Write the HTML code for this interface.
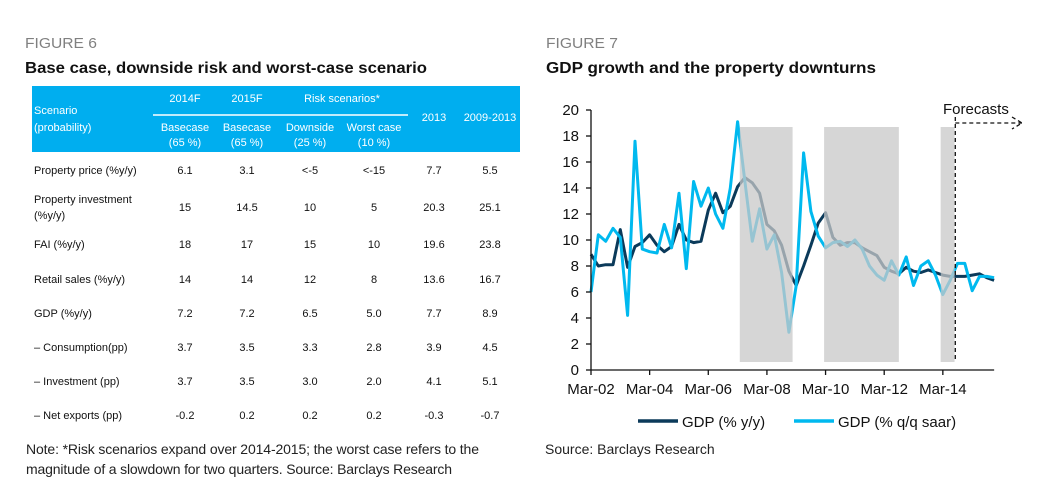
<!DOCTYPE html>
<html><head><meta charset="utf-8"><style>
body{margin:0;background:#fff;}
svg{display:block;font-family:"Liberation Sans",sans-serif;}
</style></head><body>
<svg width="1049" height="498" viewBox="0 0 1049 498">
<!-- Figure 6 -->
<text x="25" y="48" font-size="15" fill="#808080" textLength="72" lengthAdjust="spacingAndGlyphs">FIGURE 6</text>
<text x="25" y="73" font-size="16" font-weight="bold" fill="#111" textLength="402" lengthAdjust="spacingAndGlyphs">Base case, downside risk and worst-case scenario</text>
<g id="table" font-size="11">
<rect x="32" y="86" width="488" height="66" fill="#00aeef"/>
<g fill="#fff">
<text x="34" y="114">Scenario</text><text x="34" y="131">(probability)</text>
<text x="185" y="102" text-anchor="middle">2014F</text>
<text x="247" y="102" text-anchor="middle">2015F</text>
<text x="342" y="102" text-anchor="middle">Risk scenarios*</text>
<text x="434" y="121" text-anchor="middle">2013</text>
<text x="490" y="121" text-anchor="middle">2009-2013</text>
<text x="185" y="131" text-anchor="middle">Basecase</text><text x="185" y="146" text-anchor="middle">(65 %)</text>
<text x="247" y="131" text-anchor="middle">Basecase</text><text x="247" y="146" text-anchor="middle">(65 %)</text>
<text x="310" y="131" text-anchor="middle">Downside</text><text x="310" y="146" text-anchor="middle">(25 %)</text>
<text x="374" y="131" text-anchor="middle">Worst case</text><text x="374" y="146" text-anchor="middle">(10 %)</text>
</g>
<line x1="153" y1="115" x2="408" y2="115" stroke="#fff" stroke-width="1.5"/>
<g fill="#111" id="rows"></g>
</g>
<text x="26" y="454" font-size="14" fill="#222" textLength="453">Note: *Risk scenarios expand over 2014-2015; the worst case refers to the</text>
<text x="26" y="474" font-size="14" fill="#222" textLength="426">magnitude of a slowdown for two quarters. Source: Barclays Research</text>

<!-- Figure 7 -->
<text x="546" y="48" font-size="15" fill="#808080" textLength="72" lengthAdjust="spacingAndGlyphs">FIGURE 7</text>
<text x="546" y="73" font-size="16" font-weight="bold" fill="#111" textLength="330" lengthAdjust="spacingAndGlyphs">GDP growth and the property downturns</text>
<g id="chart"></g>
<g>
<line x1="638" y1="421" x2="678" y2="421" stroke="#0b3a5a" stroke-width="3.5"/>
<text x="682" y="427" font-size="15" fill="#111">GDP (% y/y)</text>
<line x1="794" y1="421" x2="834" y2="421" stroke="#00b9ef" stroke-width="3.5"/>
<text x="838" y="427" font-size="15" fill="#111">GDP (% q/q saar)</text>
</g>
<text x="545" y="454" font-size="14" fill="#222">Source: Barclays Research</text>
</svg>
<script>
const rowLabels=[["Property price (%y/y)"],["Property investment","(%y/y)"],["FAI (%y/y)"],["Retail sales (%y/y)"],["GDP (%y/y)"],["– Consumption(pp)"],["– Investment (pp)"],["– Net exports (pp)"]];
const rowValues=[["6.1","3.1","<-5","<-15","7.7","5.5"],["15","14.5","10","5","20.3","25.1"],["18","17","15","10","19.6","23.8"],["14","14","12","8","13.6","16.7"],["7.2","7.2","6.5","5.0","7.7","8.9"],["3.7","3.5","3.3","2.8","3.9","4.5"],["3.7","3.5","3.0","2.0","4.1","5.1"],["-0.2","0.2","0.2","0.2","-0.3","-0.7"]];
const NS="http://www.w3.org/2000/svg";
const rowsG=document.getElementById('rows');
const colX=[185,247,310,374,434,490];
const rowY=[174,211,248,283,317,351,385,419];
function mk(tag,attrs,parent){const e=document.createElementNS(NS,tag);for(const k in attrs)e.setAttribute(k,attrs[k]);parent.appendChild(e);return e;}
rowLabels.forEach((lab,r)=>{
  if(lab.length===1){const t=mk('text',{x:34,y:rowY[r]},rowsG);t.textContent=lab[0];
    
    }
  else{lab.forEach((l,j)=>{const t=mk('text',{x:34,y:rowY[r]-8+j*16},rowsG);t.textContent=l;
    
    });}
  rowValues[r].forEach((v,c)=>{const t=mk('text',{x:colX[c],y:rowY[r],'text-anchor':'middle'},rowsG);t.textContent=v;
    
    });
});

// chart data (quarterly from Mar-02)
const yTicks=[0,2,4,6,8,10,12,14,16,18,20];
const xTickLabels=["Mar-02","Mar-04","Mar-06","Mar-08","Mar-10","Mar-12","Mar-14"];
const gdpYY=[8.9,8.0,8.1,8.1,10.8,7.9,9.5,9.8,10.4,9.6,9.1,9.5,11.2,10.0,9.8,9.9,12.3,13.6,12.1,12.6,14.1,14.8,14.4,13.6,11.2,10.7,9.6,7.6,6.5,8.0,9.6,11.3,12.1,10.2,9.6,9.8,9.8,9.4,9.1,8.8,7.9,7.6,7.4,7.9,7.6,7.5,7.7,7.5,7.3,7.2,7.2,7.2,7.3,7.4,7.1,6.9];
const gdpQQ=[6.0,10.4,9.9,10.9,10.2,4.2,17.6,9.3,9.1,9.0,11.2,9.4,13.6,7.8,14.5,12.6,14.0,12.0,10.9,14.0,19.1,14.5,9.9,12.4,9.3,10.4,7.5,2.9,6.5,16.7,12.2,10.3,9.4,9.8,9.9,9.5,10.0,9.3,8.0,7.3,6.9,8.4,7.3,8.7,6.5,8.0,8.4,7.3,5.8,6.9,8.2,8.2,6.1,7.2,7.2,7.1];
const downturnStarts=[20.3,31.8,47.7];
const downturnEnds=[27.5,42.0,49.6];
const forecastStart=49.7;
const X0=591,QW=7.33,Y0=370,UY=13;
const xs=i=>X0+i*QW, ys=v=>Y0-v*UY;
const ch=document.getElementById('chart');
function pathOf(arr){return arr.map((v,i)=>(i?'L':'M')+xs(i).toFixed(1)+' '+ys(v).toFixed(1)).join(' ');}
const p1=mk('path',{d:pathOf(gdpYY),fill:'none',stroke:'#0b3a5a','stroke-width':3,'stroke-linejoin':'round'},ch);


const p2=mk('path',{d:pathOf(gdpQQ),fill:'none',stroke:'#00b9ef','stroke-width':3,'stroke-linejoin':'round'},ch);


downturnStarts.forEach((s,k)=>{const r=mk('rect',{x:xs(s),y:127,width:xs(downturnEnds[k])-xs(s),height:235,fill:'#c8c8c8','fill-opacity':0.75},ch);
  
  });
const fx=xs(forecastStart);
const fl=mk('line',{x1:fx,y1:117,x2:fx,y2:362,stroke:'#111','stroke-width':1.3,'stroke-dasharray':'4 3'},ch);


const fa=mk('path',{d:`M${fx} 123 L1022 123 M1012 117 L1022 123 L1012 129`,fill:'none',stroke:'#111','stroke-width':1.3,'stroke-dasharray':'4 3'},ch);


const ft=mk('text',{x:943,y:114,'font-size':15,fill:'#111'},ch);ft.textContent='Forecasts';


const ya=mk('line',{x1:X0,y1:ys(20),x2:X0,y2:Y0,stroke:'#111','stroke-width':1.3},ch);


const xa=mk('line',{x1:X0,y1:Y0,x2:xs(55),y2:Y0,stroke:'#111','stroke-width':1.3},ch);


yTicks.forEach(v=>{mk('line',{x1:X0-5,y1:ys(v),x2:X0,y2:ys(v),stroke:'#111','stroke-width':1.3},ch);
  const t=mk('text',{x:X0-12,y:ys(v)+5,'font-size':15,'text-anchor':'end',fill:'#111'},ch);t.textContent=v;
  
  });
xTickLabels.forEach((l,k)=>{const x=xs(k*8);mk('line',{x1:x,y1:Y0,x2:x,y2:Y0+5,stroke:'#111','stroke-width':1.3},ch);
  const t=mk('text',{x:x,y:Y0+24,'font-size':15,'text-anchor':'middle',fill:'#111'},ch);t.textContent=l;
  
  });
</script>
</body></html>
